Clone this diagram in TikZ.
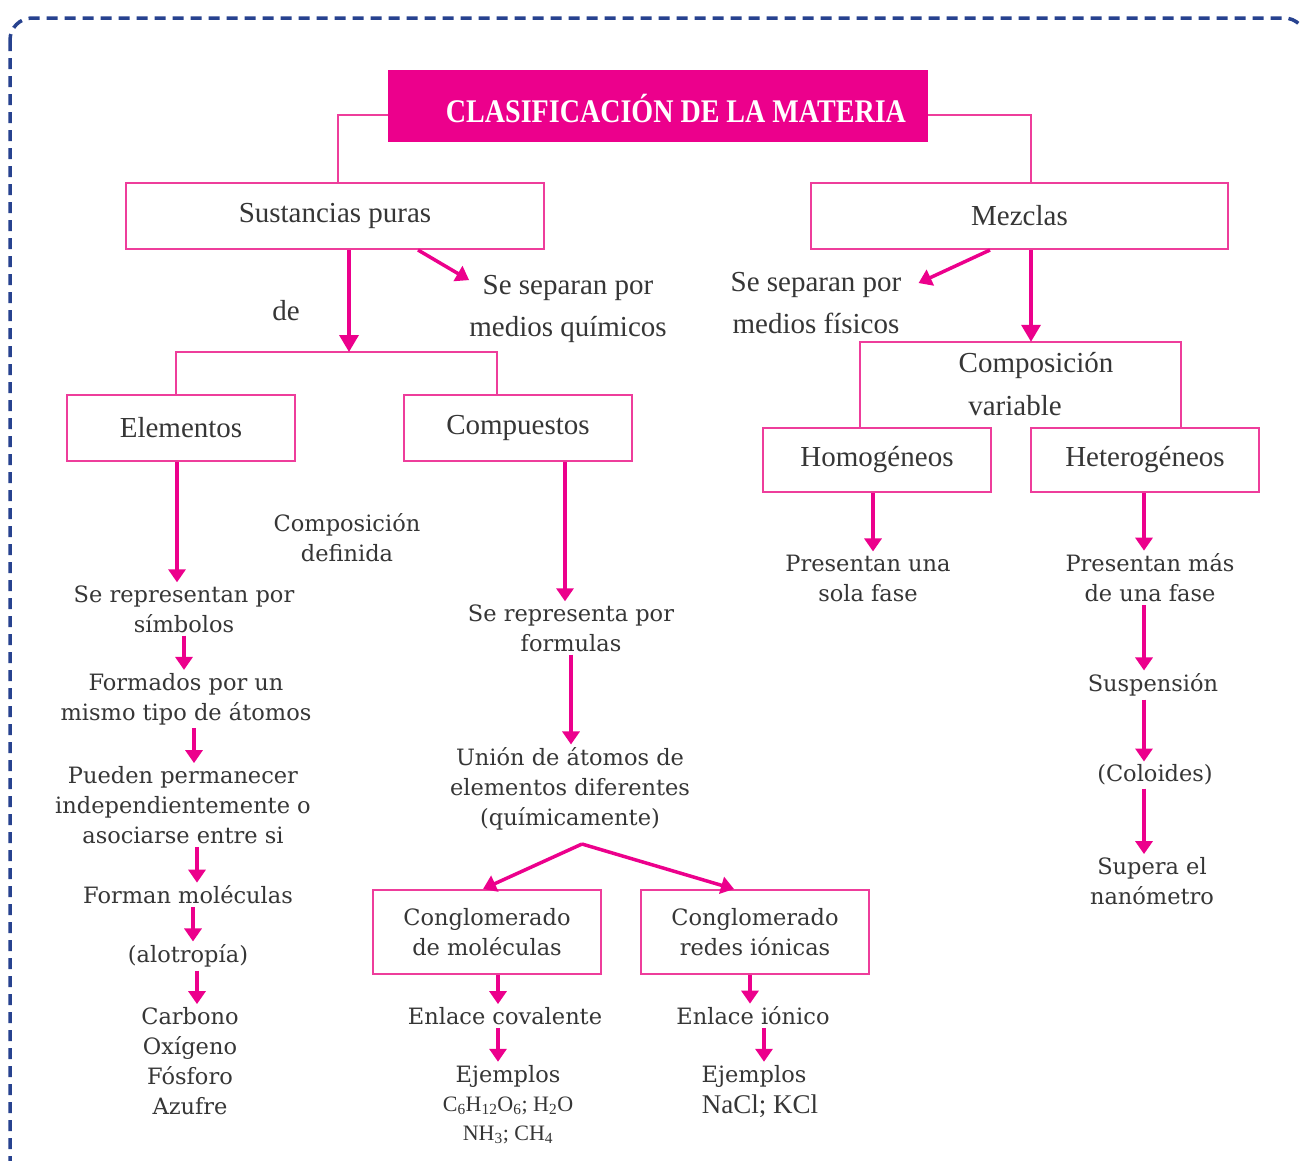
\documentclass[tikz,border=0pt]{standalone}
\usepackage{fontspec}
\usepackage{graphicx}
\setmainfont{Liberation Serif}
\newfontfamily\wideserif{DejaVu Serif}
\usetikzlibrary{arrows.meta,calc}
\definecolor{mag}{HTML}{EC008C}
\definecolor{boxpink}{HTML}{EE3D9B}
\definecolor{navy}{HTML}{27428F}
\definecolor{txt}{HTML}{363636}
\begin{document}
\begin{tikzpicture}[x=1pt,y=-1pt,
  box/.style={draw=boxpink, line width=2pt, text=txt, align=center,
    font=\fontsize{29}{34}\selectfont},
  wbox/.style={draw=boxpink, line width=2pt, text=txt, align=center,
    font=\wideserif\fontsize{22.5}{30}\selectfont},
  top/.style={text=txt, align=center, inner sep=3pt, font=\fontsize{29}{42}\selectfont},
  lbl/.style={text=txt, align=center, inner sep=3pt, font=\wideserif\fontsize{22.5}{30}\selectfont},
  link/.style={draw=boxpink, line width=2pt},
  arr/.style={draw=mag, line width=3.5pt, -{Triangle[length=13pt,width=17pt]}},
  bigarr/.style={draw=mag, line width=3.5pt, -{Triangle[length=17pt,width=19pt]}},
]
\useasboundingbox (0,0) rectangle (1300,1160);
\fill[white] (0,0) rectangle (1300,1160);
\begin{scope}
\clip (0,0) rectangle (1300,1160);
\draw[navy, line width=3.5pt, dash pattern=on 11pt off 7pt, rounded corners=22pt] (10,18) rectangle (1306,1210);
\end{scope}

% title
\node[fill=mag, minimum width=540pt, minimum height=72pt, inner sep=0pt] (title) at (658,106) {};
\node[text=white, inner sep=0pt] (ttext) at (676,108)
  {\scalebox{0.85}[1]{\fontsize{33}{36}\selectfont\bfseries CLASIFICACIÓN DE LA MATERIA}};

% main boxes
\node[box, minimum width=418pt, minimum height=66pt] (sp) at (335,216) {Sustancias puras};
\node[box, minimum width=417pt, minimum height=66pt] (mez) at (1019.5,216) {Mezclas};
\node[box, minimum width=228pt, minimum height=66pt] (elem) at (181,428) {Elementos};
\node[box, minimum width=228pt, minimum height=66pt] (comp) at (518,428) {Compuestos};
\node[minimum width=321pt, minimum height=86pt, inner sep=0pt] (cv) at (1020.5,385) {};
\node[top, inner sep=0pt] (cv1) at (1036,365) {Composición};
\node[top, inner sep=0pt] (cv2) at (1015,406) {variable};
\node[box, minimum width=228pt, minimum height=64pt] (homo) at (877,460) {Homogéneos};
\node[box, minimum width=228pt, minimum height=64pt] (hetero) at (1145,460) {Heterogéneos};
\node[wbox, minimum width=228pt, minimum height=84pt] (cm) at (487,932) {Conglomerado\\de moléculas};
\node[wbox, minimum width=228pt, minimum height=84pt] (cr) at (755,932) {Conglomerado\\redes iónicas};

% top labels
\node[top] (de) at (286,311) {de};
\node[top] (sepq) at (568,309) {Se separan por\\medios químicos};
\node[top] (sepf) at (816,303) {Se separan por\\medios físicos};

% left column
\node[lbl] (cd) at (347,538) {Composición\\definida};
\node[lbl] (ser) at (184,609) {Se representan por\\símbolos};
\node[lbl] (form) at (186,699) {Formados por un\\mismo tipo de átomos};
\node[lbl] (pued) at (183,805) {Pueden permanecer\\independientemente o\\asociarse entre si};
\node[lbl] (fm) at (188,895) {Forman moléculas};
\node[lbl] (alo) at (188,956) {(alotropía)};
\node[lbl] (carb) at (190,1061) {Carbono\\Oxígeno\\Fósforo\\Azufre};

% middle column
\node[lbl] (rep) at (571,628) {Se representa por\\formulas};
\node[lbl] (union) at (570,789) {Unión de átomos de\\elementos diferentes\\(químicamente)};
\coordinate (split) at (582,844);
\node[lbl] (ec) at (505,1016) {Enlace covalente};
\node[lbl] (ej1) at (508,1076) {Ejemplos};
\node[text=txt, inner sep=2pt, font=\fontsize{22}{26}\selectfont] (f1) at (508,1106)
  {C\textsubscript{6}H\textsubscript{12}O\textsubscript{6}; H\textsubscript{2}O};
\node[text=txt, inner sep=2pt, font=\fontsize{22}{26}\selectfont] (f2) at (508,1135)
  {NH\textsubscript{3}; CH\textsubscript{4}};
\node[lbl] (ei) at (753,1016) {Enlace iónico};
\node[lbl] (ej2) at (754,1076) {Ejemplos};
\node[text=txt, inner sep=2pt, font=\fontsize{27}{30}\selectfont] (nk) at (760,1106) {NaCl; KCl};

% right columns
\node[lbl] (pu) at (868,578) {Presentan una\\sola fase};
\node[lbl] (pm) at (1150,578) {Presentan más\\de una fase};
\node[lbl] (susp) at (1153,685) {Suspensión};
\node[lbl] (col) at (1155,775) {(Coloides)};
\node[lbl] (sup) at (1152,881) {Supera el\\nanómetro};

% connectors
\draw[link] ([yshift=-9pt]title.west) -| ([xshift=3pt]sp.north);
\draw[link] ([yshift=-9pt]title.east) -| ([xshift=11.5pt]mez.north);
\coordinate (brk) at (349,352);
\draw[link] ([xshift=-5pt]elem.north) |- (brk) -| ([xshift=-21pt]comp.north);
\draw[bigarr] (sp.south -| brk) -- (brk);
\draw[link] (cv.south west) -- (cv.north west) -- (cv.north east) -- (cv.south east);
\draw[bigarr] ([xshift=11.5pt]mez.south) -- ([xshift=11.5pt]mez.south |- cv.north);
\draw[arr] ([xshift=83pt]sp.south) -- ([shift={(3pt,-8pt)}]sepq.north west);
\draw[arr] ([xshift=-29.5pt]mez.south) -- ([shift={(14pt,-14pt)}]sepf.north east);

\draw[arr] ([xshift=-4pt]elem.south) -- ([xshift=-4pt]elem.south |- ser.north);
\draw[arr] (ser.south) -- (ser.south |- form.north);
\draw[arr] ([xshift=8pt]form.south) -- ([xshift=8pt]form.south |- pued.north);
\draw[arr] ([xshift=14pt]pued.south) -- ([xshift=14pt]pued.south |- fm.north);
\draw[arr] ([xshift=5pt]fm.south) -- ([xshift=5pt]fm.south |- alo.north);
\draw[arr] ([xshift=9pt]alo.south) -- ([xshift=9pt]alo.south |- carb.north);

\draw[arr] ([xshift=47pt]comp.south) -- ([xshift=47pt]comp.south |- rep.north);
\draw[arr] (rep.south) -- (rep.south |- union.north);
\draw[arr] (split) -- ([xshift=-4pt]cm.north);
\draw[arr] (split) -- ([xshift=-21pt]cr.north);
\draw[arr] ([xshift=11pt]cm.south) -- ([xshift=11pt]cm.south |- ec.north);
\draw[arr] ([xshift=-7pt]ec.south) -- ([xshift=-7pt]ec.south |- ej1.north);
\draw[arr] ([xshift=-5pt]cr.south) -- ([xshift=-5pt]cr.south |- ei.north);
\draw[arr] ([xshift=11pt]ei.south) -- ([xshift=11pt]ei.south |- ej2.north);

\draw[arr] ([xshift=-4pt]homo.south) -- ([xshift=-4pt]homo.south |- pu.north);
\draw[arr] ([xshift=-1pt]hetero.south) -- ([xshift=-1pt]hetero.south |- pm.north);
\draw[arr] ([xshift=-1pt]pm.south -| hetero.south) -- ([xshift=-1pt]susp.north -| hetero.south);
\draw[arr] ([xshift=-1pt]susp.south -| hetero.south) -- ([xshift=-1pt]col.north -| hetero.south);
\draw[arr] ([xshift=-1pt]col.south -| hetero.south) -- ([xshift=-1pt]sup.north -| hetero.south);
\end{tikzpicture}
\end{document}
